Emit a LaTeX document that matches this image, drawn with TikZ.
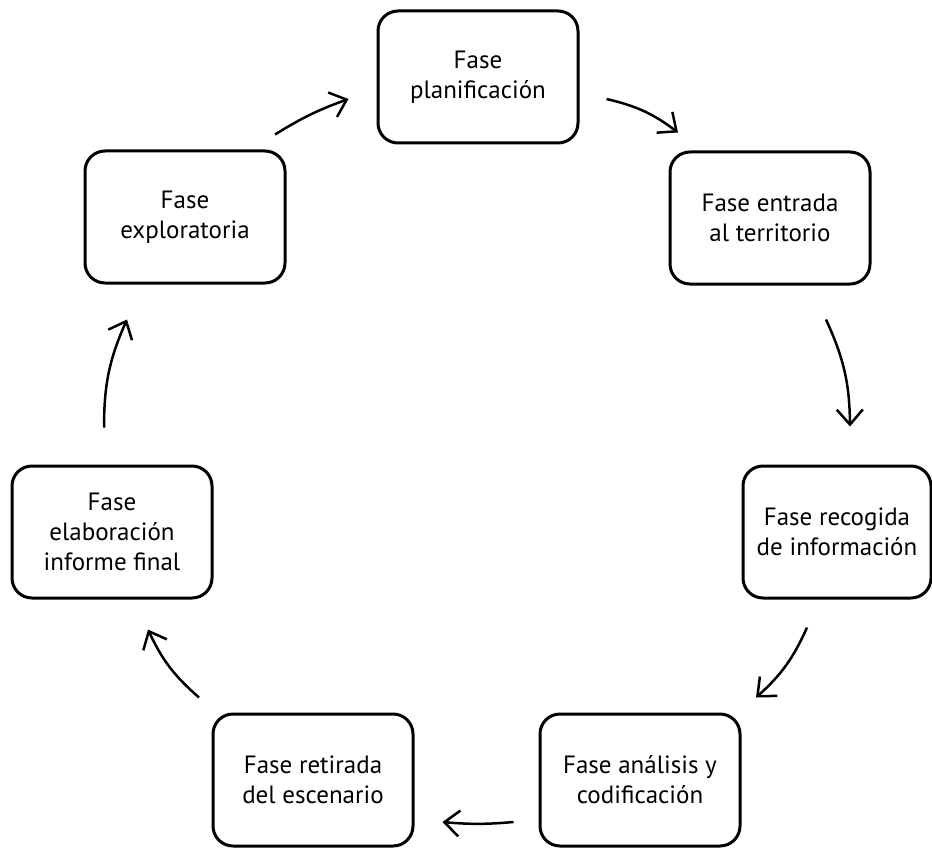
\documentclass[tikz,border=0pt]{standalone}
\usepackage{fontspec}
\setmainfont{PT Sans}
\usetikzlibrary{arrows.meta}
\tikzset{fase/.style={draw, line width=3pt, rounded corners=20pt,
      minimum width=200pt, minimum height=132pt, inner sep=2pt,
      align=center, font=\fontsize{25}{30}\selectfont}}
\tikzset{flecha/.style={line width=2.5pt, bend left=12,
      -{Straight Barb[length=15pt,width=26pt]}}}

\begin{document}
\begin{tikzpicture}[x=1pt,y=1pt]
    \useasboundingbox (0,0) rectangle (932,-848);
    \node[fase] (plan) at (478,-77) {Fase\\planificación};
    \node[fase] (entrada) at (770,-218) {Fase entrada\\al territorio};
    \node[fase, minimum width=188pt] (recogida) at (837,-532) {Fase recogida\\de información};
    \node[fase] (analisis) at (640,-780) {Fase análisis y\\codificación};
    \node[fase] (retirada) at (313,-780) {Fase retirada\\del escenario};
    \node[fase] (elaboracion) at (112,-532) {Fase\\elaboración\\informe final};
    \node[fase] (explo) at (185,-217) {Fase\\exploratoria};
    \draw[flecha, bend left=6] ([xshift=90pt,yshift=15pt]explo.north) to ([xshift=-28pt,yshift=-22pt]plan.west);
    \draw[flecha] ([xshift=27pt,yshift=-22pt]plan.east) to ([xshift=-92pt,yshift=18pt]entrada.north);
    \draw[flecha] ([xshift=56pt,yshift=-34pt]entrada.south) to ([xshift=13pt,yshift=38pt]recogida.north);
    \draw[flecha] ([xshift=-30pt,yshift=-28pt]recogida.south) to ([xshift=116pt,yshift=15pt]analisis.north);
    \draw[flecha, bend left=5] ([xshift=-25pt,yshift=-42pt]analisis.west) to ([xshift=28pt,yshift=-42pt]retirada.east);
    \draw[flecha] ([xshift=-114pt,yshift=15pt]retirada.north) to ([xshift=36pt,yshift=-30pt]elaboracion.south);
    \draw[flecha] ([xshift=-8pt,yshift=37pt]elaboracion.north) to ([xshift=-58pt,yshift=-35pt]explo.south);
\end{tikzpicture}
\end{document}
